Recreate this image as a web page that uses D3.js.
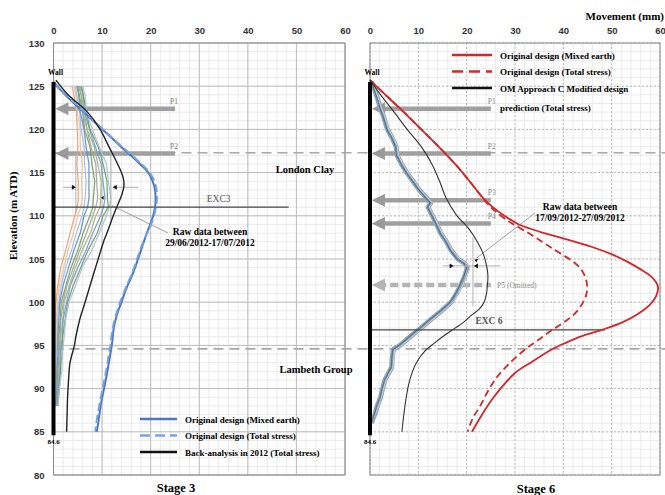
<!DOCTYPE html>
<html>
<head>
<meta charset="utf-8">
<script src="https://cdn.jsdelivr.net/npm/d3@7"></script>
<style>
  body { margin: 0; background: #fff; }
  svg { display: block; }
</style>
</head>
<body>
<script>
// ---------- axis ticks ----------
const movementTicks = [0, 10, 20, 30, 40, 50, 60];
const elevationTicks = [80, 85, 90, 95, 100, 105, 110, 115, 120, 125, 130];

// ---------- stratigraphy, excavation, props ----------
const londonClayBase = 117.3;
const lambethTop = 94.6;
const wallTop = 125.5;
const wallToe = 84.6;
const exc3Level = 111;
const exc6Level = 96.8;
const propsStage3 = ["P1", "P2"];
const propElevStage3 = [122.4, 117.2];
const propsStage6 = ["P1", "P2", "P3", "P4", "P5 (Omitted)"];
const propElevStage6 = [122.4, 117.2, 111.8, 109.1, 102.0];

// ---------- Stage 3 predictions [elevation, movement mm] ----------
const s3DesignMixed = [[125.5,0],[124,2.4],[122,6.2],[120,10.1],[118,13.9],[116,17.8],[115,19.5],[114,20.4],[113,20.9],[112,21],[111,20.9],[110,20.5],[109,19.9],[108,19.2],[107,18.6],[106,18],[105,17.4],[104,16.8],[103,16.1],[102,15.3],[101,14.6],[100,14],[99,13.3],[98,12.8],[97,12.4],[96,12.2],[95,12],[94,11.7],[92,11.1],[90,10.4],[88,9.7],[86,9.2],[85,8.9]];
const s3DesignTotal = [[125.3,0],[124,2.6],[122,6.4],[120,10.2],[118,14.1],[116,18.1],[115,19.8],[114,20.8],[113,21.2],[112,21.3],[111,21.1],[110,20.7],[109,20.1],[108,19.3],[107,18.5],[106,17.8],[105,17.2],[104,16.6],[103,15.9],[102,15.1],[101,14.4],[100,13.7],[99,13.1],[98,12.6],[97,12.2],[96,11.9],[95,11.7],[94,11.4],[92,10.8],[90,10.1],[88,9.4],[86,8.8],[85,8.6]];
const s3BackAnalysis = [[125.7,0.5],[124,3],[122,7],[120,9.6],[118,11.4],[116,13.2],[114.5,14.3],[113.5,14.5],[112.5,14.1],[111,13],[110,12.3],[108,11],[107,10.3],[105,9.2],[103,8.1],[100,6.5],[98,5.4],[96,4.6],[95,4.3],[93,3.4],[91,3.1],[89,2.9],[87,2.8],[85,2.7]];

// ---------- Stage 3 inclinometer readings (29/06/2012 - 17/07/2012) ----------
const s3RawElev = [125,124,122,120,118,116,114,112,111,110,108,106,104,102,100,98,96,94,92,90,88];
const s3Raw1  = [3.8,4.2,4.7,4.9,5.0,4.8,5.1,5.1,4.9,4.4,3.4,2.5,1.5,0.9,0.5,0.4,0.5,0.3,0.4,0.3,0.3];
const s3Raw2  = [4.2,4.6,4.9,5.5,5.5,5.9,5.8,5.9,5.6,5.0,4.1,3.0,2.1,1.2,0.8,0.6,0.5,0.6,0.4,0.5,0.3];
const s3Raw3  = [4.5,4.8,5.4,5.7,6.3,6.4,6.7,6.5,6.3,5.9,4.7,3.7,2.5,1.6,1.1,0.8,0.8,0.6,0.6,0.5,0.4];
const s3Raw4  = [4.8,5.2,5.5,6.3,6.7,7.3,7.3,7.3,7.0,6.3,5.5,4.2,3.1,2.0,1.3,1.1,0.9,0.9,0.7,0.7,0.5];
const s3Raw5  = [5.0,5.3,6.0,6.4,7.5,7.9,8.5,8.2,8.1,7.5,6.1,5.0,3.6,2.6,1.6,1.4,1.1,1.1,0.9,0.8,0.6];
const s3Raw6  = [5.2,5.7,6.0,6.9,7.7,8.7,8.9,9.1,8.7,8.1,6.8,5.4,4.1,2.8,2.0,1.5,1.4,1.1,1.1,0.8,0.7];
const s3Raw7  = [5.4,5.7,6.4,6.9,8.4,9.1,9.8,9.7,9.6,8.7,7.6,5.9,4.5,3.3,2.2,1.9,1.5,1.4,1.1,1.0,0.7];
const s3Raw8  = [5.6,6.1,6.4,7.4,8.6,9.8,10.2,10.6,10.3,9.7,8.1,6.7,5.0,3.5,2.7,2.0,1.8,1.5,1.4,1.0,0.8];
const s3Raw9  = [5.8,6.1,6.8,7.5,9.2,10.2,11.0,11.1,11.3,10.2,9.0,7.1,5.6,4.1,2.9,2.4,1.9,1.8,1.4,1.2,0.9];
const s3Raw10 = [6.0,6.5,6.8,8.0,9.4,10.9,11.3,11.8,11.5,10.9,9.4,7.9,5.9,4.6,3.2,2.5,2.2,1.8,1.7,1.2,0.9];
const s3RawSeries = [s3Raw1, s3Raw2, s3Raw3, s3Raw4, s3Raw5, s3Raw6, s3Raw7, s3Raw8, s3Raw9, s3Raw10];
const s3RawColours = ["#e8a27a", "#f0c09a", "#9cc0e4", "#5f8fc9", "#7d9c5e", "#9aa3a0", "#a8b27a", "#6e9bd0", "#6f9a6a", "#a9c1d6"];

// ---------- Stage 6 predictions [elevation, movement mm] ----------
const s6DesignMixed = [[125.7,0],[124,3.2],[122,7],[120,10.6],[118,14.2],[116,17.6],[114,20.6],[112,23.5],[111,25.4],[110,27.8],[109,30.8],[108.5,33.2],[108,36],[107.5,39.2],[107,42.3],[106.3,46.4],[105.5,50.2],[104.7,53.2],[103.8,56],[103.1,57.9],[102.3,59.2],[101.7,59.6],[101,59.4],[100.3,58.8],[99.7,57.9],[98.7,55.6],[97.7,52.3],[96.8,48],[96.1,44],[95.3,40.5],[94.5,37.5],[93,33.2],[91.8,30],[90,27],[88.7,25.2],[87,23.2],[85,21.1]];
const s6DesignTotal = [[125.7,0],[124,3.2],[122,7],[120,10.6],[118,14.2],[116,17.6],[114,20.6],[112,23.4],[111,25],[110.4,26.2],[109.5,28.3],[108.9,30],[108,32.8],[107,35.6],[106.3,37.5],[105.5,39.8],[104.7,42],[103.8,43.7],[102.8,44.6],[102,44.9],[101,44.8],[100,44.1],[99,42.9],[98.2,41.4],[97.4,39.4],[96.6,37.2],[95.5,34.5],[94.5,32],[93,29],[91.5,26.5],[90,24.7],[88,22.8],[86.5,21.2],[85,20.2]];
const s6OMModified = [[125.7,0],[124,2.2],[122,5],[120,7.7],[118,10.6],[116,12.8],[114,14.4],[112,15.8],[110,18],[108.6,20.3],[107,22.2],[105.5,23.5],[104,24.2],[103,24.4],[102,24.3],[101,24.1],[100,23.6],[99.2,22.6],[98.5,21],[97.6,19.2],[97,17.6],[96.2,15.5],[95.3,13.4],[94.3,11.3],[93,9.6],[92,8.8],[90.5,8],[89,7.5],[87,7],[85,6.6]];

// ---------- Stage 6 inclinometer readings (17/09/2012 - 27/09/2012) ----------
const s6RawElev = [125.5,124.5,123.5,122.4,121.5,120,119,118,117,116,115,114,113,112,111.5,111,110,109,108,107,106,105,104.5,104,103,102,101,100,99,98,97,96,95,94.5,93.5,92.5,91,90,89,88,87,86.5,86];
const s6RawA = [0.3,1.0,1.6,2.2,2.8,3.6,4.6,5.4,5.6,6.5,7.6,8.9,10.2,11.8,12.6,12.0,12.9,13.8,14.6,15.8,16.8,18.2,19.6,20.2,19.6,18.8,17.9,16.8,14.8,12.6,10.5,8.3,6.2,4.8,4.6,4.5,3.1,2.6,2.2,1.5,1.0,0.6,0.3];
const s6RawB = [0.2,0.8,1.4,2.0,2.5,3.3,4.3,5.1,5.4,6.2,7.3,8.6,9.9,11.4,12.3,11.7,12.6,13.5,14.3,15.5,16.4,17.8,19.1,19.7,19.2,18.4,17.5,16.4,14.4,12.2,10.1,7.9,5.8,4.5,4.3,4.2,2.9,2.4,2.0,1.3,0.8,0.5,0.2];
const s6RawC = [0.4,1.2,1.8,2.4,3.1,3.9,4.9,5.7,5.9,6.8,7.9,9.2,10.5,12.1,12.9,12.3,13.2,14.1,14.9,16.1,17.1,18.6,20.0,20.7,20.0,19.2,18.3,17.2,15.2,13.0,10.9,8.7,6.6,5.1,4.9,4.8,3.3,2.8,2.4,1.7,1.1,0.7,0.4];
const s6RawD = [0.3,0.9,1.5,2.1,2.7,3.5,4.5,5.3,5.5,6.4,7.5,8.8,10.1,11.6,12.5,11.9,12.8,13.7,14.5,15.7,16.6,18.0,19.4,20.0,19.4,18.6,17.7,16.6,14.6,12.4,10.3,8.1,6.0,4.7,4.5,4.4,3.0,2.5,2.1,1.4,0.9,0.6,0.3];

// ---------- layout ----------
const W = 665, H = 495;
const svg = d3.select("body").append("svg").attr("width", W).attr("height", H);
const y = d3.scaleLinear().domain([80, 130]).range([475, 43]);
const xLeft = d3.scaleLinear().domain([0, 60]).range([53.5, 345]);
const xRight = d3.scaleLinear().domain([0, 60]).range([370, 660]);

const serif = "'Liberation Serif','Times New Roman',serif";
const sans = "'Liberation Sans',Arial,sans-serif";

function drawGrid(x, majorDash) {
  const g = svg.append("g");
  const minorX = d3.range(0, 60.01, 2);
  const minorY = d3.range(80, 130.01, 1);
  g.selectAll(".mx").data(minorX).join("line")
    .attr("x1", d => x(d)).attr("x2", d => x(d))
    .attr("y1", y(130)).attr("y2", y(80))
    .attr("stroke", "#e6e6e6").attr("stroke-width", 0.8);
  g.selectAll(".my").data(minorY).join("line")
    .attr("x1", x(0)).attr("x2", x(60))
    .attr("y1", d => y(d)).attr("y2", d => y(d))
    .attr("stroke", "#e6e6e6").attr("stroke-width", 0.8);
  g.selectAll(".Mx").data(movementTicks).join("line")
    .attr("x1", d => x(d)).attr("x2", d => x(d))
    .attr("y1", y(130)).attr("y2", y(80))
    .attr("stroke", "#bdbdbd").attr("stroke-width", 1)
    .attr("stroke-dasharray", majorDash);
  g.selectAll(".My").data(elevationTicks).join("line")
    .attr("x1", x(0)).attr("x2", x(60))
    .attr("y1", d => y(d)).attr("y2", d => y(d))
    .attr("stroke", "#bdbdbd").attr("stroke-width", 1)
    .attr("stroke-dasharray", majorDash);
  g.append("rect")
    .attr("x", x(0)).attr("y", y(130))
    .attr("width", x(60) - x(0)).attr("height", y(80) - y(130))
    .attr("fill", "none").attr("stroke", "#8a8a8a").attr("stroke-width", 1);
  // top movement axis labels
  const ax = svg.append("g").attr("transform", `translate(0,${y(130) - 9})`)
    .call(d3.axisTop(x).tickValues(movementTicks).tickSize(0).tickPadding(0));
  ax.select(".domain").remove();
  ax.selectAll("text").attr("font-family", sans).attr("font-weight", "bold")
    .attr("font-size", 9.5).attr("fill", "#333");
}

drawGrid(xLeft, null);
drawGrid(xRight, "2,2");

// elevation axis (left only)
const ay = svg.append("g").attr("transform", `translate(${xLeft(0) - 9},0)`)
  .call(d3.axisLeft(y).tickValues(elevationTicks).tickSize(0).tickPadding(0));
ay.select(".domain").remove();
ay.selectAll("text").attr("font-family", sans).attr("font-weight", "bold")
  .attr("font-size", 9.5).attr("fill", "#333");

svg.append("text").attr("transform", `translate(17,${y(110)}) rotate(-90)`)
  .attr("text-anchor", "middle").attr("font-family", serif).attr("font-weight", "bold")
  .attr("font-size", 11).text("Elevation (m ATD)");

svg.append("text").attr("x", 664).attr("y", 20).attr("text-anchor", "end")
  .attr("font-family", serif).attr("font-weight", "bold").attr("font-size", 11)
  .text("Movement (mm)");

// strata boundaries across both panels
[londonClayBase, lambethTop].forEach(e => {
  svg.append("line").attr("x1", xLeft(0)).attr("x2", W)
    .attr("y1", y(e)).attr("y2", y(e))
    .attr("stroke", "#a8a8a8").attr("stroke-width", 1.6).attr("stroke-dasharray", "10,6");
});

const line = (x) => d3.line().x(d => x(d[1])).y(d => y(d[0])).curve(d3.curveCatmullRom.alpha(0.5));
const rawLine = (x, elev) => d3.line().x(d => x(d)).y((d, i) => y(elev[i]));

function drawProps(x, names, elevs) {
  names.forEach((name, i) => {
    const e = elevs[i];
    const omitted = name.indexOf("Omitted") >= 0;
    svg.append("line").attr("x1", x(1.7)).attr("x2", x(25))
      .attr("y1", y(e)).attr("y2", y(e))
      .attr("stroke", omitted ? "#b4b4b4" : "#a0a0a0").attr("stroke-width", 4.5)
      .attr("stroke-dasharray", omitted ? "8,4" : null);
    const tip = x(0.4);
    svg.append("path")
      .attr("d", `M${tip},${y(e)} L${tip + 13},${y(e) - 6.5} L${tip + 13},${y(e) + 6.5} Z`)
      .attr("fill", omitted ? "#b4b4b4" : "#9a9a9a");
  });
}

function drawWall(x) {
  svg.append("line").attr("x1", x(0)).attr("x2", x(0))
    .attr("y1", y(wallTop)).attr("y2", y(wallToe))
    .attr("stroke", "#000").attr("stroke-width", 4);
  svg.append("text").attr("x", x(0) + 2).attr("y", y(wallTop) - 7)
    .attr("text-anchor", "middle").attr("font-family", serif).attr("font-weight", "bold")
    .attr("font-size", 7.5).text("Wall");
  svg.append("text").attr("x", x(0)).attr("y", y(wallToe) + 9)
    .attr("text-anchor", "middle").attr("font-family", serif).attr("font-weight", "bold")
    .attr("font-size", 7).text("84.6");
}

// ===================== Stage 3 =====================
drawProps(xLeft, propsStage3, propElevStage3);

// raw readings
s3RawSeries.forEach((s, i) => {
  svg.append("path").attr("d", rawLine(xLeft, s3RawElev)(s))
    .attr("fill", "none").attr("stroke", s3RawColours[i]).attr("stroke-width", 1.3)
    .attr("opacity", 0.9);
});

// range markers
svg.append("line").attr("x1", xLeft(4.6)).attr("x2", xLeft(4.6)).attr("y1", y(117.2)).attr("y2", y(110.3))
  .attr("stroke", "#b0b0b0").attr("stroke-width", 1);
svg.append("line").attr("x1", xLeft(11.8)).attr("x2", xLeft(11.8)).attr("y1", y(117.6)).attr("y2", y(109.5))
  .attr("stroke", "#b0b0b0").attr("stroke-width", 1);
svg.append("line").attr("x1", xLeft(2)).attr("x2", xLeft(4.6)).attr("y1", y(113.3)).attr("y2", y(113.3))
  .attr("stroke", "#b0b0b0").attr("stroke-width", 1);
svg.append("line").attr("x1", xLeft(12.4)).attr("x2", xLeft(17.5)).attr("y1", y(113.3)).attr("y2", y(113.3))
  .attr("stroke", "#b0b0b0").attr("stroke-width", 1);
svg.append("path").attr("d", `M${xLeft(4.6)},${y(113.3)} l-4,-2.5 l0,5 Z`).attr("fill", "#111");
svg.append("path").attr("d", `M${xLeft(12.2)},${y(113.3)} l4,-2.5 l0,5 Z`).attr("fill", "#111");
svg.append("path").attr("d", `M${xLeft(9.8)},${y(112.1)} l2.6,-2 l0,4 Z`).attr("fill", "#111");
svg.append("line").attr("x1", xLeft(12)).attr("y1", y(111.2)).attr("x2", 168).attr("y2", 233)
  .attr("stroke", "#a0a0a0").attr("stroke-width", 1);

// excavation level
svg.append("line").attr("x1", xLeft(0)).attr("x2", xLeft(48.4))
  .attr("y1", y(exc3Level)).attr("y2", y(exc3Level))
  .attr("stroke", "#444").attr("stroke-width", 1.3);
svg.append("text").attr("x", xLeft(34)).attr("y", y(exc3Level) - 5)
  .attr("text-anchor", "middle").attr("font-family", serif).attr("font-size", 9.5)
  .attr("fill", "#555").text("EXC3");

// predictions
svg.append("path").attr("d", line(xLeft)(s3DesignMixed))
  .attr("fill", "none").attr("stroke", "#4a76c4").attr("stroke-width", 2);
svg.append("path").attr("d", line(xLeft)(s3DesignTotal))
  .attr("fill", "none").attr("stroke", "#7aa2dc").attr("stroke-width", 2).attr("stroke-dasharray", "8,4");
svg.append("path").attr("d", line(xLeft)(s3BackAnalysis))
  .attr("fill", "none").attr("stroke", "#222").attr("stroke-width", 1.4);

drawWall(xLeft);

// labels
svg.append("text").attr("x", 210).attr("y", 235).attr("text-anchor", "middle")
  .attr("font-family", serif).attr("font-weight", "bold").attr("font-size", 9.5)
  .text("Raw data between");
svg.append("text").attr("x", 210).attr("y", 246).attr("text-anchor", "middle")
  .attr("font-family", serif).attr("font-weight", "bold").attr("font-size", 9.5)
  .text("29/06/2012-17/07/2012");
svg.append("text").attr("x", 305).attr("y", 173).attr("text-anchor", "middle")
  .attr("font-family", serif).attr("font-weight", "bold").attr("font-size", 10.5)
  .text("London Clay");
svg.append("text").attr("x", 316).attr("y", 373).attr("text-anchor", "middle")
  .attr("font-family", serif).attr("font-weight", "bold").attr("font-size", 10.5)
  .text("Lambeth Group");
propsStage3.forEach((p, i) => {
  svg.append("text").attr("x", xLeft(24.8)).attr("y", y(propElevStage3[i]) - 5)
    .attr("text-anchor", "middle").attr("font-family", serif).attr("font-size", 7.5)
    .attr("fill", "#777").text(p);
});

// Stage 3 legend
const legendS3 = [
  { label: "Original design (Mixed earth)", colour: "#4a76c4", dash: null },
  { label: "Original design (Total stress)", colour: "#7aa2dc", dash: "10,5" },
  { label: "Back-analysis in 2012 (Total stress)", colour: "#111", dash: null }
];
legendS3.forEach((d, i) => {
  const ly = 419 + i * 16.5;
  svg.append("line").attr("x1", 140).attr("x2", 177).attr("y1", ly).attr("y2", ly)
    .attr("stroke", d.colour).attr("stroke-width", 2.6).attr("stroke-dasharray", d.dash);
  svg.append("text").attr("x", 185).attr("y", ly + 3.5)
    .attr("font-family", serif).attr("font-weight", "bold").attr("font-size", 9)
    .text(d.label);
});
svg.append("text").attr("x", 176).attr("y", 492).attr("text-anchor", "middle")
  .attr("font-family", serif).attr("font-weight", "bold").attr("font-size", 12.5)
  .text("Stage 3");

// ===================== Stage 6 =====================
drawProps(xRight, propsStage6, propElevStage6);

// raw readings: grey envelope with coloured traces
svg.append("path").attr("d", rawLine(xRight, s6RawElev)(s6RawA))
  .attr("fill", "none").attr("stroke", "#97a4ad").attr("stroke-width", 5).attr("stroke-linejoin", "round");
svg.append("path").attr("d", rawLine(xRight, s6RawElev)(s6RawB))
  .attr("fill", "none").attr("stroke", "#8fb7a0").attr("stroke-width", 1);
svg.append("path").attr("d", rawLine(xRight, s6RawElev)(s6RawC))
  .attr("fill", "none").attr("stroke", "#c9d3dc").attr("stroke-width", 1);
svg.append("path").attr("d", rawLine(xRight, s6RawElev)(s6RawD))
  .attr("fill", "none").attr("stroke", "#4f76a8").attr("stroke-width", 1.3);

// range markers
svg.append("line").attr("x1", xRight(21.3)).attr("x2", xRight(21.3)).attr("y1", y(107.5)).attr("y2", y(99.5))
  .attr("stroke", "#b0b0b0").attr("stroke-width", 1);
svg.append("line").attr("x1", xRight(15)).attr("x2", xRight(27)).attr("y1", y(104.2)).attr("y2", y(104.2))
  .attr("stroke", "#b0b0b0").attr("stroke-width", 1);
svg.append("path").attr("d", `M${xRight(17.3)},${y(104.2)} l-4,-2.5 l0,5 Z`).attr("fill", "#111");
svg.append("path").attr("d", `M${xRight(21.5)},${y(104.2)} l4,-2.5 l0,5 Z`).attr("fill", "#111");
svg.append("line").attr("x1", 535).attr("y1", 213).attr("x2", xRight(22)).attr("y2", y(105.1))
  .attr("stroke", "#a0a0a0").attr("stroke-width", 1);
svg.append("path").attr("d", `M${xRight(21.6)},${y(104.9)} l3.6,-1 l-1.6,3.4 Z`).attr("fill", "#111");

// excavation level
svg.append("line").attr("x1", xRight(0)).attr("x2", xRight(48.6))
  .attr("y1", y(exc6Level)).attr("y2", y(exc6Level))
  .attr("stroke", "#444").attr("stroke-width", 1.3);
svg.append("text").attr("x", 489).attr("y", y(exc6Level) - 6)
  .attr("text-anchor", "middle").attr("font-family", serif).attr("font-weight", "bold")
  .attr("font-size", 9.5).attr("fill", "#555").text("EXC 6");

// predictions
svg.append("path").attr("d", line(xRight)(s6DesignMixed))
  .attr("fill", "none").attr("stroke", "#d0282b").attr("stroke-width", 1.8);
svg.append("path").attr("d", line(xRight)(s6DesignTotal))
  .attr("fill", "none").attr("stroke", "#d0282b").attr("stroke-width", 1.8).attr("stroke-dasharray", "7,4");
svg.append("path").attr("d", line(xRight)(s6OMModified))
  .attr("fill", "none").attr("stroke", "#333").attr("stroke-width", 1.1);

drawWall(xRight);

propsStage6.forEach((p, i) => {
  const omitted = p.indexOf("Omitted") >= 0;
  svg.append("text")
    .attr("x", omitted ? xRight(26.3) : xRight(25.2))
    .attr("y", omitted ? y(propElevStage6[i]) + 3 : y(propElevStage6[i]) - 5)
    .attr("text-anchor", omitted ? "start" : "middle")
    .attr("font-family", serif).attr("font-size", 7.5).attr("fill", "#888").text(p);
});

svg.append("text").attr("x", 580).attr("y", 210).attr("text-anchor", "middle")
  .attr("font-family", serif).attr("font-weight", "bold").attr("font-size", 9.5)
  .text("Raw data between");
svg.append("text").attr("x", 580).attr("y", 221).attr("text-anchor", "middle")
  .attr("font-family", serif).attr("font-weight", "bold").attr("font-size", 9.5)
  .text("17/09/2012-27/09/2012");

// Stage 6 legend
const legendS6 = [
  { label: ["Original design (Mixed earth)"], colour: "#d0282b", dash: null },
  { label: ["Original design (Total stress)"], colour: "#d0282b", dash: "11,6" },
  { label: ["OM Approach  C Modified design", "prediction (Total stress)"], colour: "#111", dash: null }
];
legendS6.forEach((d, i) => {
  const ly = 55 + i * 16.5;
  svg.append("line").attr("x1", 452).attr("x2", 492).attr("y1", ly).attr("y2", ly)
    .attr("stroke", d.colour).attr("stroke-width", 2.4).attr("stroke-dasharray", d.dash);
  d.label.forEach((t, j) => {
    svg.append("text").attr("x", 500).attr("y", ly + 3.5 + j * 19)
      .attr("font-family", serif).attr("font-weight", "bold").attr("font-size", 9)
      .text(t);
  });
});
svg.append("text").attr("x", 536).attr("y", 493).attr("text-anchor", "middle")
  .attr("font-family", serif).attr("font-weight", "bold").attr("font-size", 12.5)
  .text("Stage 6");
</script>
</body>
</html>
